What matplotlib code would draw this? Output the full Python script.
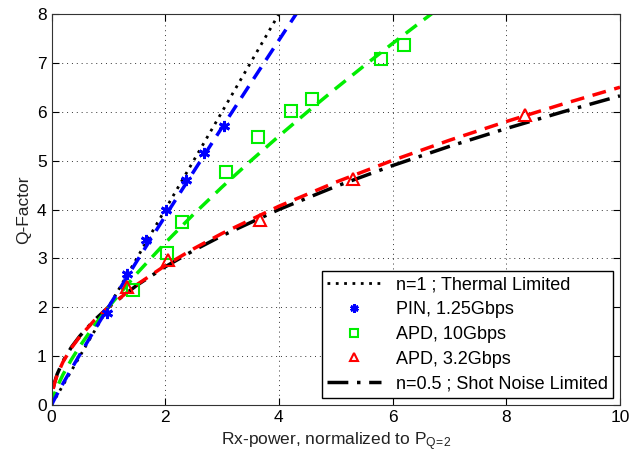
import matplotlib
matplotlib.use("Agg")
import matplotlib.pyplot as plt

plt.rcParams['font.family'] = ['Liberation Sans', 'DejaVu Sans']
plt.rcParams['mathtext.fontset'] = 'custom'
plt.rcParams['mathtext.rm'] = 'Liberation Sans'

# measured points (normalized Rx power, Q)
pin_p = [0.97, 1.33, 1.67, 2.01, 2.36, 2.69, 3.03]
pin_q = [1.88, 2.69, 3.37, 4.00, 4.60, 5.15, 5.71]

apd10_p = [1.44, 2.04, 2.30, 3.07, 3.64, 4.22, 4.59, 5.79, 6.20]
apd10_q = [2.35, 3.12, 3.74, 4.77, 5.49, 6.02, 6.26, 7.07, 7.36]

apd32_p = [1.32, 2.05, 3.67, 5.31, 8.33]
apd32_q = [2.41, 2.97, 3.78, 4.62, 5.93]

# fitted curves
thermal_p = [0.0, 4.5]
thermal_q = [0.0, 9.0]

pin_fit_p = [0.0, 0.05, 0.1, 0.2, 0.35, 0.5, 0.75, 1.0, 1.5, 2.0, 2.5, 3.0, 3.5, 4.0, 4.5]
pin_fit_q = [0.0, 0.116, 0.224, 0.434, 0.738, 1.035, 1.522, 2.0, 2.940, 3.864, 4.776, 5.680, 6.576, 7.464, 8.348]

apd10_fit_p = [0.0, 0.05, 0.1, 0.2, 0.35, 0.5, 0.75, 1.0, 1.5, 2.0, 2.5, 3.0, 3.5, 4.0, 4.5,
               5.0, 5.5, 6.0, 6.5, 7.0]
apd10_fit_q = [0.0, 0.224, 0.372, 0.618, 0.929, 1.206, 1.621, 2.0, 2.689, 3.317, 3.904, 4.460,
               4.991, 5.502, 5.996, 6.476, 6.942, 7.398, 7.842, 8.278]

apd32_fit_p = [0.03, 0.05, 0.1, 0.2, 0.35, 0.5, 0.75, 1.0, 1.5, 2.0, 2.5, 3.0, 4.0, 5.0, 6.0,
               7.0, 8.0, 9.0, 10.0]
apd32_fit_q = [0.33, 0.431, 0.615, 0.877, 1.168, 1.402, 1.726, 2.0, 2.461, 2.852, 3.197, 3.510,
               4.067, 4.559, 5.005, 5.417, 5.800, 6.160, 6.502]

shot_p = [0.03, 0.05, 0.1, 0.2, 0.35, 0.5, 0.75, 1.0, 1.5, 2.0, 2.5, 3.0, 4.0, 5.0, 6.0,
          7.0, 8.0, 9.0, 10.0]
shot_q = [0.346, 0.447, 0.632, 0.894, 1.183, 1.414, 1.732, 2.0, 2.449, 2.828, 3.162, 3.464,
          4.0, 4.472, 4.899, 5.292, 5.657, 6.0, 6.325]

fig = plt.figure(figsize=(6.32, 4.61), dpi=100)
ax = fig.add_axes([0.0815, 0.1215, 0.8995, 0.8481])

h_thermal, = ax.plot(thermal_p, thermal_q, color='black', linestyle=':', linewidth=2.0,
                     dashes=(1, 2), label='n=1 ; Thermal Limited')
h_shot, = ax.plot(shot_p, shot_q, color='black', linestyle='-.', linewidth=2.5,
                  dashes=(6, 2.5, 1, 2.5), label='n=0.5 ; Shot Noise Limited')
ax.plot(apd32_fit_p, apd32_fit_q, color='red', linestyle='--', linewidth=2.5, dashes=(4, 2.5))
ax.plot(apd10_fit_p, apd10_fit_q, color='#00ee00', linestyle='--', linewidth=2.5, dashes=(4, 2.5))
ax.plot(pin_fit_p, pin_fit_q, color='blue', linestyle='--', linewidth=2.5, dashes=(4, 2.5))

asterisk = (6, 2, 0)
h_pin, = ax.plot(pin_p, pin_q, linestyle='none', marker=asterisk, color='blue', markersize=8,
                 markeredgewidth=2.0, label='PIN, 1.25Gbps')
h_apd10, = ax.plot(apd10_p, apd10_q, linestyle='none', marker='s', markerfacecolor='none',
                   markeredgecolor='#00ee00', markersize=8, markeredgewidth=1.5,
                   label='APD, 10Gbps')
h_apd32, = ax.plot(apd32_p, apd32_q, linestyle='none', marker='^', markerfacecolor='none',
                   markeredgecolor='red', markersize=8, markeredgewidth=1.5,
                   label='APD, 3.2Gbps')

ax.set_xlim(0, 10)
ax.set_ylim(0, 8)
ax.set_xticks([0, 2, 4, 6, 8, 10])
ax.set_yticks(range(0, 9))
ax.grid(True, color='black', linestyle=':', linewidth=0.7, dashes=(1, 4), alpha=0.8)
ax.tick_params(direction='in', top=True, right=True, labelsize=12.5, length=5)
for s in ax.spines.values():
    s.set_color('#333333')

ax.set_xlabel('Rx-power, normalized to $\\mathregular{P_{Q\\!=\\!2}}$', fontsize=12.5, color='#222222')
ax.set_ylabel('Q-Factor', fontsize=12.5, color='#222222')

leg = ax.legend(handles=[h_thermal, h_pin, h_apd10, h_apd32, h_shot], loc='lower right',
                bbox_to_anchor=(0.988, 0.019), borderaxespad=0, fontsize=13,
                fancybox=False, framealpha=1, edgecolor='black', handlelength=3.0,
                labelspacing=0.42, borderpad=0.3, handletextpad=0.8, markerscale=0.75)
leg.get_frame().set_linewidth(1.0)

fig.savefig('out.png', dpi=100)
